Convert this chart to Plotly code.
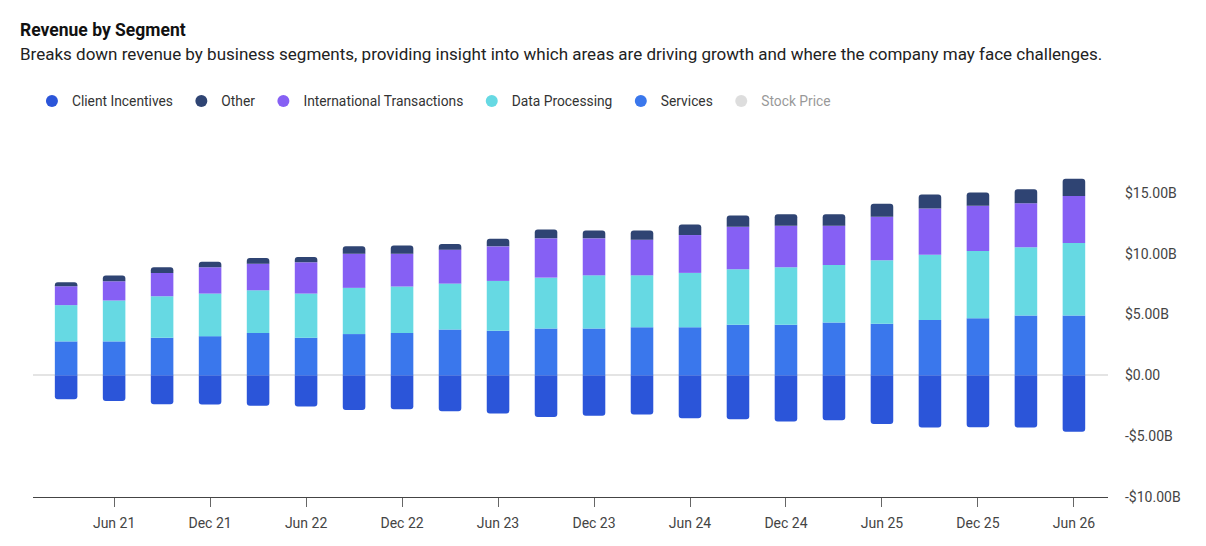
import plotly.graph_objects as go

# Quarter labels and the ticks shown on the x axis
quarters = ["Mar 21", "Jun 21", "Sep 21", "Dec 21", "Mar 22", "Jun 22", "Sep 22", "Dec 22",
            "Mar 23", "Jun 23", "Sep 23", "Dec 23", "Mar 24", "Jun 24", "Sep 24", "Dec 24",
            "Mar 25", "Jun 25", "Sep 25", "Dec 25", "Mar 26", "Jun 26"]
x_ticks = ["Jun 21", "Dec 21", "Jun 22", "Dec 22", "Jun 23", "Dec 23",
           "Jun 24", "Dec 24", "Jun 25", "Dec 25", "Jun 26"]

# Segment values, $ billions
client_incentives = [-1.97, -2.10, -2.38, -2.40, -2.51, -2.57, -2.84, -2.79, -2.95, -3.14, -3.42,
                     -3.33, -3.22, -3.52, -3.61, -3.80, -3.69, -3.99, -4.29, -4.26, -4.29, -4.64]
services = [2.79, 2.79, 3.09, 3.22, 3.47, 3.09, 3.39, 3.47, 3.77, 3.66, 3.85,
            3.85, 3.96, 3.96, 4.15, 4.15, 4.34, 4.23, 4.54, 4.70, 4.92, 4.92]
data_processing = [2.98, 3.36, 3.41, 3.50, 3.52, 3.63, 3.80, 3.83, 3.77, 4.10, 4.18,
                   4.37, 4.26, 4.46, 4.57, 4.73, 4.73, 5.22, 5.38, 5.52, 5.60, 5.95]
international = [1.55, 1.58, 1.92, 2.16, 2.19, 2.57, 2.81, 2.70, 2.79, 2.84, 3.23,
                 3.04, 2.93, 3.11, 3.49, 3.42, 3.23, 3.58, 3.80, 3.71, 3.63, 3.88]
other = [0.33, 0.47, 0.46, 0.46, 0.46, 0.44, 0.60, 0.68, 0.46, 0.63, 0.73,
         0.65, 0.76, 0.87, 0.93, 0.95, 0.95, 1.07, 1.14, 1.10, 1.15, 1.40]

y_ticks = [-10, -5, 0, 5, 10, 15]
y_tick_text = ["-$10.00B", "-$5.00B", "$0.00", "$5.00B", "$10.00B", "$15.00B"]

colors = {
    "Client Incentives": "#2B55D9",
    "Other": "#2F4473",
    "International Transactions": "#8660F4",
    "Data Processing": "#66D9E3",
    "Services": "#3A77EC",
    "Stock Price": "#BDBDBD",
}

fig = go.Figure()

# bars (stack order: bottom to top)
for name, vals in [("Client Incentives", client_incentives), ("Services", services),
                   ("Data Processing", data_processing),
                   ("International Transactions", international), ("Other", other)]:
    fig.add_trace(go.Bar(x=quarters, y=vals, name=name, marker_color=colors[name],
                         marker_line_width=0, showlegend=False))

# legend entries drawn as circles (trailing nbsp widens the gap between items a little)
for name in ["Client Incentives", "Other", "International Transactions",
             "Data Processing", "Services", "Stock Price"]:
    fig.add_trace(go.Scatter(
        x=[None], y=[None], mode="markers", name=name + "\u00a0",
        marker=dict(symbol="circle", size=12, color=colors[name]),
    ))

# page adds an 8px body margin, so the figure is a bit smaller than the window
fig.update_layout(
    width=1198, height=538,
    barmode="relative",
    bargap=0.53,
    barcornerradius=3,
    plot_bgcolor="white",
    paper_bgcolor="white",
    font=dict(family="Roboto, Arial, sans-serif", size=14, color="#333333"),
    margin=dict(l=25, r=98, t=124, b=49),
    showlegend=True,
    legend=dict(orientation="h", x=-0.001, xanchor="left", y=1.085, yanchor="middle",
                font=dict(size=13.8, color="#333333"), itemsizing="constant",
                traceorder="normal", itemwidth=30, bgcolor="rgba(0,0,0,0)"),
    annotations=[
        dict(text="<b>Revenue by Segment</b>", xref="paper", yref="paper",
             x=-0.0135, y=1.279, xanchor="left", yanchor="middle", showarrow=False,
             font=dict(size=17.5, color="#111111")),
        dict(text="Breaks down revenue by business segments, providing insight into which areas "
                  "are driving growth and where the company may face challenges.",
             xref="paper", yref="paper", x=-0.0135, y=1.2137, xanchor="left",
             yanchor="middle", showarrow=False, font=dict(size=17, color="#222222")),
    ],
)

fig.update_xaxes(
    type="category",
    range=[-0.69, 21.71],
    tickmode="array", tickvals=x_ticks, ticktext=x_ticks,
    ticks="outside", ticklen=9, tickcolor="#666666", tickwidth=1,
    showline=True, linecolor="#444444", linewidth=1,
    showgrid=False,
    ticklabelstandoff=4,
    tickfont=dict(size=14, color="#444444"),
)

fig.update_yaxes(
    side="right",
    range=[-10, 20],
    tickmode="array", tickvals=y_ticks, ticktext=y_tick_text,
    showgrid=False,
    zeroline=True, zerolinecolor="#E4E4E4", zerolinewidth=1.5,
    ticklabelstandoff=16,
    tickfont=dict(size=14, color="#444444"),
)

# greyed-out legend item (hidden series)
fig.data[-1].visible = "legendonly"

fig.write_html("out.html")
